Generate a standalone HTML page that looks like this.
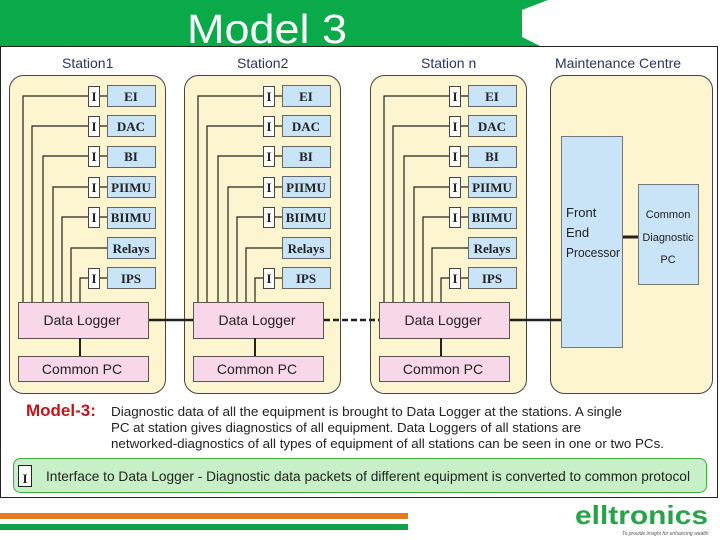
<!DOCTYPE html>
<html><head><meta charset="utf-8"><style>
body{margin:0;width:720px;height:540px;overflow:hidden;background:#fff}
svg{display:block}
text{font-family:"Liberation Sans",sans-serif}
.dev text,text.dev{font-family:"Liberation Serif",serif;font-weight:bold;font-size:13px;fill:#222}
</style></head><body>
<svg width="720" height="540" viewBox="0 0 720 540">
<polygon points="0,0 548,0 522,10 522,37 540,46 0,46" fill="#0aa94a"/>
<text x="187" y="43" font-size="41" fill="#fff" textLength="160" lengthAdjust="spacingAndGlyphs">Model 3</text>
<rect x="0.5" y="46.5" width="717" height="451" fill="#fff" stroke="#222" stroke-width="1"/>
<g font-size="14" fill="#2a3560">
<text x="62" y="68">Station1</text><text x="237" y="68">Station2</text>
<text x="421" y="68">Station n</text><text x="555" y="68">Maintenance Centre</text></g>
<g fill="#fdf5cf" stroke="#444" stroke-width="1">
<rect x="9.5" y="75.5" width="156" height="318" rx="14"/>
<rect x="184.5" y="75.5" width="156" height="318" rx="14"/>
<rect x="370.5" y="75.5" width="156" height="318" rx="14"/>
<rect x="550.5" y="75.5" width="162" height="318" rx="14"/>
</g>
<g id="st">
<g stroke="#222" stroke-width="1.2" fill="none">
<path d="M23 302V96H88M32 302V126H88M43 302V156H88M53 302V187H88M62 302V217H88M71 302V248H107M80 302V278H88"/>
<path d="M99 96H107M99 126H107M99 156H107M99 187H107M99 217H107M99 278H107"/>
</g>
<g fill="#c9e3f7" stroke="#666">
<rect x="107.5" y="85.5" width="48" height="21"/><rect x="107.5" y="115.5" width="48" height="21"/>
<rect x="107.5" y="146.5" width="48" height="21"/><rect x="107.5" y="176.5" width="48" height="21"/>
<rect x="107.5" y="207.5" width="48" height="21"/><rect x="107.5" y="237.5" width="48" height="21"/>
<rect x="107.5" y="267.5" width="48" height="21"/></g>
<g fill="#fff" stroke="#444">
<rect x="88.5" y="86.5" width="11" height="20"/><rect x="88.5" y="116.5" width="11" height="20"/>
<rect x="88.5" y="146.5" width="11" height="20"/><rect x="88.5" y="177.5" width="11" height="20"/>
<rect x="88.5" y="207.5" width="11" height="20"/><rect x="88.5" y="268.5" width="11" height="20"/></g>
<g class="dev" text-anchor="middle">
<text x="94" y="101">I</text><text x="94" y="131">I</text><text x="94" y="161">I</text><text x="94" y="192">I</text><text x="94" y="222">I</text><text x="94" y="283">I</text>
<text x="131" y="101">EI</text><text x="131" y="131">DAC</text><text x="131" y="161">BI</text><text x="131" y="192">PIIMU</text><text x="131" y="222">BIIMU</text><text x="131" y="253">Relays</text><text x="131" y="283">IPS</text></g>
<rect x="18.5" y="302.5" width="130" height="36" fill="#f8d7e8" stroke="#555"/>
<rect x="18.5" y="356.5" width="130" height="25" fill="#f8d7e8" stroke="#555"/>
<line x1="80" y1="338" x2="80" y2="356" stroke="#222" stroke-width="2"/>
<g font-size="14" fill="#222" text-anchor="middle"><text x="82" y="325">Data Logger</text><text x="82" y="374">Common PC</text></g>
</g>
<use href="#st" x="175"/>
<use href="#st" x="361"/>
<g stroke="#222" stroke-width="2.5">
<line x1="149" y1="320" x2="193" y2="320"/>
<line x1="324" y1="320" x2="379" y2="320" stroke-dasharray="6,3"/>
<line x1="510" y1="320" x2="561" y2="320"/>
<line x1="622" y1="237" x2="638" y2="237" stroke-width="3"/>
</g>
<rect x="561.5" y="136.5" width="61" height="211" fill="#c9e3f7" stroke="#777"/>
<rect x="638.5" y="184.5" width="60" height="100" fill="#c9e3f7" stroke="#777"/>
<g font-size="13" fill="#222"><text x="566" y="217">Front</text><text x="566" y="237">End</text><text x="566" y="257" textLength="54" lengthAdjust="spacingAndGlyphs">Processor</text></g>
<g font-size="11" fill="#222" text-anchor="middle"><text x="668" y="218">Common</text><text x="668" y="241">Diagnostic</text><text x="668" y="263">PC</text></g>
<text x="26" y="416" font-size="17" font-weight="bold" fill="#c0141e">Model-3:</text>
<g font-size="13" fill="#222"><text x="111" y="416" textLength="511" lengthAdjust="spacingAndGlyphs">Diagnostic data of all the equipment is brought to Data Logger at the stations. A single</text>
<text x="111" y="432" textLength="470" lengthAdjust="spacingAndGlyphs">PC at station gives diagnostics of all equipment. Data Loggers of all stations are</text>
<text x="111" y="448" textLength="553" lengthAdjust="spacingAndGlyphs">networked-diagnostics of all types of equipment of all stations can be seen in one or two PCs.</text></g>
<rect x="13.5" y="458.5" width="693" height="34" rx="7" fill="#c8f0c8" stroke="#4a4"/>
<rect x="18.5" y="465.5" width="13" height="21" fill="#fff" stroke="#222"/>
<text x="25" y="483" class="dev" font-size="18" text-anchor="middle">I</text>
<text x="46" y="481" font-size="14" fill="#222" textLength="644" lengthAdjust="spacingAndGlyphs">Interface to Data Logger - Diagnostic data packets of different equipment is converted to common protocol</text>
<rect x="0" y="513" width="408" height="6" fill="#e57a23"/>
<rect x="0" y="524" width="408" height="6" fill="#12a04c"/>
<text x="575" y="524" font-size="26" font-weight="bold" fill="#2aa24a" textLength="133" lengthAdjust="spacingAndGlyphs">elltronics</text>
<text x="622" y="535" font-size="5" fill="#555" font-style="italic">To provide insight for enhancing wealth</text>
</svg>
</body></html>
